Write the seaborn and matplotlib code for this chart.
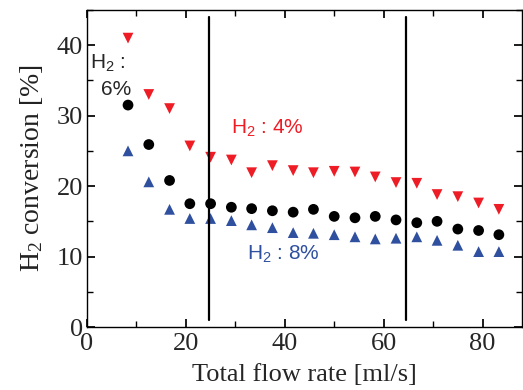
import pandas as pd
import numpy as np
import seaborn as sns
import matplotlib.pyplot as plt
from matplotlib.ticker import MultipleLocator

# Data
flow_rate = [8.3, 12.5, 16.7, 20.8, 25.0, 29.2, 33.3, 37.5, 41.7, 45.8,
             50.0, 54.2, 58.3, 62.5, 66.7, 70.8, 75.0, 79.2, 83.3]
conv_h2_4 = [41.0, 33.0, 31.0, 25.7, 24.1, 23.7, 21.9, 22.9, 22.2, 21.9,
             22.1, 22.0, 21.3, 20.5, 20.4, 18.8, 18.5, 17.6, 16.7]
conv_h2_6 = [31.5, 25.9, 20.8, 17.5, 17.5, 17.0, 16.8, 16.5, 16.3, 16.7,
             15.7, 15.5, 15.7, 15.2, 14.8, 15.0, 13.9, 13.7, 13.1]
conv_h2_8 = [25.0, 20.6, 16.7, 15.4, 15.4, 15.1, 14.5, 14.1, 13.4, 13.3,
             13.1, 12.8, 12.5, 12.6, 12.8, 12.3, 11.6, 10.7, 10.7]
divider_x = [24.6, 64.6]

df = pd.DataFrame({
    'flow': flow_rate * 3,
    'conv': conv_h2_4 + conv_h2_6 + conv_h2_8,
    'H2': ['4%'] * 19 + ['6%'] * 19 + ['8%'] * 19,
})

sns.set_theme(style="ticks")
plt.rcParams['font.family'] = ['Liberation Serif', 'DejaVu Serif']
plt.rcParams['mathtext.fontset'] = 'custom'
plt.rcParams['mathtext.rm'] = 'Liberation Serif'
plt.rcParams['mathtext.it'] = 'Liberation Serif'
plt.rcParams['mathtext.sf'] = 'Liberation Sans'

fig = plt.figure(figsize=(5.23, 3.90), dpi=100)
ax = fig.add_axes([0.1663, 0.1615, 0.832, 0.813])

red = '#ee1c25'
blue = '#2f4f9f'
sns.scatterplot(data=df, x='flow', y='conv', hue='H2', style='H2',
                palette={'4%': red, '6%': 'black', '8%': blue},
                markers={'4%': 'v', '6%': 'o', '8%': '^'},
                s=60, linewidth=0, legend=False, ax=ax)

for xv in divider_x:
    ax.plot([xv, xv], [1, 44], color='black', lw=1.6)

ax.set_xlim(0, 88)
ax.set_ylim(0, 45)
ax.xaxis.set_major_locator(MultipleLocator(20))
ax.xaxis.set_minor_locator(MultipleLocator(10))
ax.yaxis.set_major_locator(MultipleLocator(10))
ax.yaxis.set_minor_locator(MultipleLocator(5))
ax.tick_params(which='both', direction='in', top=True, right=True,
               labeltop=False, labelright=False, color='black')
ax.tick_params(which='major', length=6, labelsize=19, pad=3)
ax.tick_params(axis='x', which='major', pad=4)
ax.tick_params(which='minor', length=4)
for sp in ax.spines.values():
    sp.set_color('black')
    sp.set_linewidth(1.0)

ax.set_xlabel('Total flow rate [ml/s]', fontsize=19, labelpad=7)
ax.set_ylabel('H$_2$ conversion [%]', fontsize=20, labelpad=8, color='#222222')

sans = ['Liberation Sans', 'DejaVu Sans']
ax.text(0.6, 37.5, 'H$_\\mathsf{2}$ :', family=sans, fontsize=15, va='center', ha='left')
ax.text(2.8, 33.7, '6%', family=sans, fontsize=15, va='center', ha='left')
ax.text(29.2, 28.3, 'H$_\\mathsf{2}$ : 4%', family=sans, fontsize=15, color=red,
        va='center', ha='left')
ax.text(32.3, 10.5, 'H$_\\mathsf{2}$ : 8%', family=sans, fontsize=15, color=blue,
        va='center', ha='left')

fig.savefig('out.png', dpi=100)
